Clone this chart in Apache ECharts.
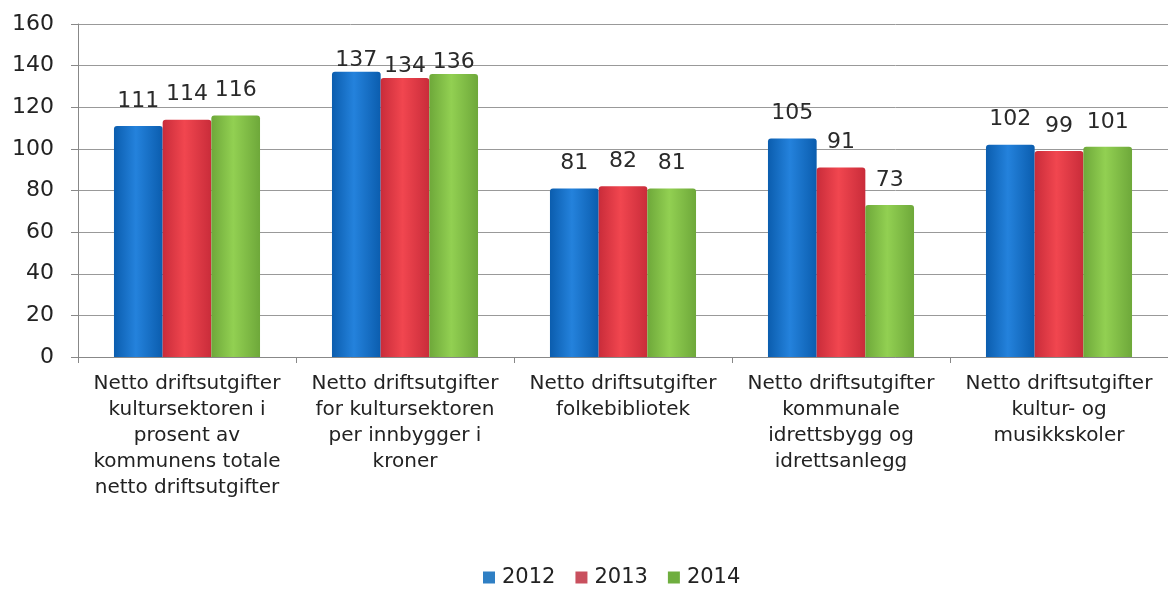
<!DOCTYPE html>
<html>
<head>
<meta charset="utf-8">
<script src="https://cdn.jsdelivr.net/npm/echarts@6/dist/echarts.min.js"></script>
<style>
  html, body { margin: 0; padding: 0; background: #fff; }
  #chart { width: 1168px; height: 608px; }
</style>
</head>
<body>
<div id="chart"></div>
<script>
// data
var categories = [
  'Netto driftsutgifter\nkultursektoren i\nprosent av\nkommunens totale\nnetto driftsutgifter',
  'Netto driftsutgifter\nfor kultursektoren\nper innbygger i\nkroner',
  'Netto driftsutgifter\nfolkebibliotek',
  'Netto driftsutgifter\nkommunale\nidrettsbygg og\nidrettsanlegg',
  'Netto driftsutgifter\nkultur- og\nmusikkskoler'
];
var years = ['2012', '2013', '2014'];
var values2012 = [111, 137, 81, 105, 102];
var values2013 = [114, 134, 82, 91, 99];
var values2014 = [116, 136, 81, 73, 101];

var FONT = '"DejaVu Sans", Verdana, sans-serif';

function barColor(dark, light) {   // horizontal gradient, gives the bars a rounded look
  return {
    type: 'linear', x: 0, y: 0, x2: 1, y2: 0,
    colorStops: [
      {offset: 0, color: dark},
      {offset: 0.45, color: light},
      {offset: 1, color: dark}
    ]
  };
}

var colors = [
  barColor('#0b5dae', '#2482dc'),
  barColor('#c92c3a', '#f1464f'),
  barColor('#6ea83a', '#92d052')
];
var legendColors = ['#2f7fc4', '#c9505e', '#6fae3f'];

var allValues = [values2012, values2013, values2014];
var series_data = [];
for (var i = 0; i < years.length; i++) {
  var items = [];
  for (var j = 0; j < allValues[i].length; j++) {
    // labels of the tallest group sit right on the bars (no room above)
    items.push({value: allValues[i][j], label: {distance: j == 1 ? 1 : 14}});
  }
  series_data.push({
    name: years[i],
    type: 'bar',
    data: items,
    barGap: '0%',
    barCategoryGap: '33%',
    itemStyle: {color: colors[i], borderRadius: [3, 3, 0, 0]},
    label: {
      show: true,
      position: 'top',
      fontFamily: FONT,
      fontSize: 22,
      color: '#2a2a2a'
    }
  });
}

var chart = echarts.init(document.getElementById('chart'));
var option = {
  animation: false,
  legend: {
    data: years.map(function (y, k) { return {name: y, itemStyle: {color: legendColors[k]}}; }),
    left: 478,
    bottom: 15,
    itemWidth: 12,
    itemHeight: 12,
    itemGap: 20,
    icon: 'rect',
    textStyle: {fontFamily: FONT, fontSize: 21, color: '#222', padding: [0, 0, 0, 2]}
  },
  grid: {
    left: 78,
    top: 24,
    width: 1103,
    height: 333,
    containLabel: false
  },
  xAxis: {
    type: 'category',
    data: categories,
    axisLine: {lineStyle: {color: '#888', width: 1}},
    axisTick: {show: true, length: 6, lineStyle: {color: '#888'}},
    axisLabel: {
      interval: 0,
      margin: 14,
      fontFamily: FONT,
      fontSize: 20,
      lineHeight: 26,
      color: '#222',
      align: 'center'
    }
  },
  yAxis: {
    type: 'value',
    min: 0,
    max: 160,
    interval: 20,
    axisLine: {show: true, lineStyle: {color: '#888'}},
    axisTick: {show: true, length: 7, lineStyle: {color: '#888'}},
    splitLine: {lineStyle: {color: '#999', width: 1}},
    axisLabel: {
      margin: 24,
      fontFamily: FONT,
      fontSize: 22,
      color: '#222'
    }
  },
  series: series_data
};
chart.setOption(option);
</script>
</body>
</html>
